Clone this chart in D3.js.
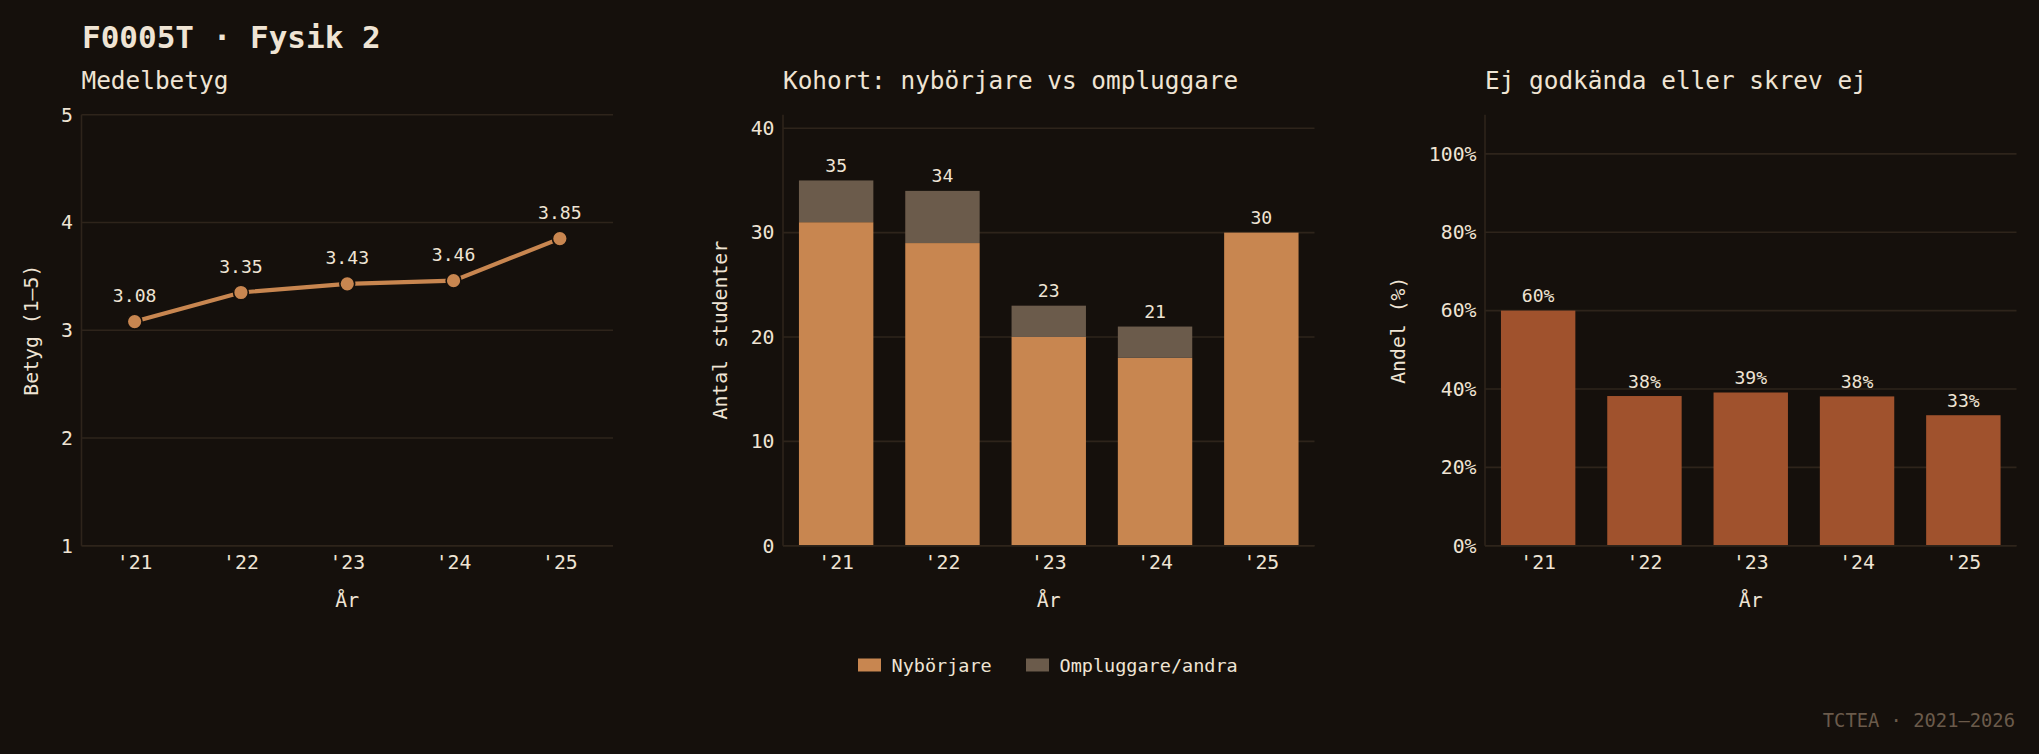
<!DOCTYPE html>
<html>
<head>
<meta charset="utf-8">
<script src="https://cdn.jsdelivr.net/npm/d3@7"></script>
<style>
  html, body { margin: 0; padding: 0; background: #15100c; }
  svg { display: block; }
</style>
</head>
<body>
<div id="chart"></div>
<script>
const W = 2039;
const H = 754;
const bg = '#15100c';
const ink = '#efe4d4';
const gridColor = '#2e241b';
const orange = '#c88650';
const brownGrey = '#6b5b4b';
const sienna = '#a0522d';
const mono = '"DejaVu Sans Mono", monospace';

// data
const years = ["'21", "'22", "'23", "'24", "'25"];
const medelbetyg = [3.08, 3.35, 3.43, 3.46, 3.85];
const nyborjare = [31, 29, 20, 18, 30];
const ompluggare = [4, 5, 3, 3, 0];
const ejGodkandaPct = [60, 38.2, 39.1, 38.1, 33.3];
const betygTicks = [1, 2, 3, 4, 5];
const studentTicks = [0, 10, 20, 30, 40];
const pctTicks = [0, 20, 40, 60, 80, 100];
const legendLabels = ['Nybörjare', 'Ompluggare/andra'];

const plotTop = 114.7, plotBottom = 545.7, pw = 531.5;
const lefts = [81.5, 783, 1485];
const tickFont = 19.8, valFont = 18.1;

const svg = d3.select('#chart').append('svg')
  .attr('width', W).attr('height', H)
  .style('background', bg);

svg.append('text')
  .attr('x', 82).attr('y', 47.5)
  .attr('fill', ink).attr('font-family', mono)
  .attr('font-size', 31).attr('font-weight', 'bold')
  .text('F0005T · Fysik 2');

// common frame for one panel: grid, spines, axes, labels
function panel(i, title, yScale, yTicks, yFmt, yLabel) {
  const x0 = lefts[i];
  const g = svg.append('g').attr('transform', 'translate(' + x0 + ',0)');
  const x = d3.scaleBand().domain(years).range([0, pw]).paddingInner(0.3).paddingOuter(0.15);

  g.append('text').attr('x', 0).attr('y', 89)
    .attr('fill', ink).attr('font-family', mono).attr('font-size', 24.4)
    .text(title);

  g.selectAll('line.grid').data(yTicks).enter().append('line')
    .attr('class', 'grid')
    .attr('x1', 0).attr('x2', pw)
    .attr('y1', d => yScale(d)).attr('y2', d => yScale(d))
    .attr('stroke', gridColor).attr('stroke-width', 1.6);

  const yAx = g.append('g')
    .call(d3.axisLeft(yScale).tickValues(yTicks).tickSize(0).tickPadding(8.5).tickFormat(yFmt));
  yAx.select('.domain').remove();
  yAx.selectAll('text').attr('font-family', mono).attr('font-size', tickFont).attr('fill', ink);

  const xAx = g.append('g').attr('transform', 'translate(0,' + plotBottom + ')')
    .call(d3.axisBottom(x).tickSize(0).tickPadding(9.5));
  xAx.select('.domain').remove();
  xAx.selectAll('text').attr('font-family', mono).attr('font-size', tickFont).attr('fill', ink);

  let maxW = 0;
  yAx.selectAll('text').each(function () { maxW = Math.max(maxW, this.getBBox().width); });

  g.append('text')
    .attr('transform', 'translate(' + (-(maxW + 8.5 + 30)) + ',' + ((plotTop + plotBottom) / 2) + ') rotate(-90)')
    .attr('text-anchor', 'middle').attr('dominant-baseline', 'central')
    .attr('fill', ink).attr('font-family', mono).attr('font-size', tickFont)
    .text(yLabel);

  g.append('text').attr('x', pw / 2).attr('y', 606.5)
    .attr('text-anchor', 'middle')
    .attr('fill', ink).attr('font-family', mono).attr('font-size', tickFont)
    .text('År');

  const marks = g.append('g');

  g.append('line').attr('x1', 0).attr('x2', 0).attr('y1', plotTop).attr('y2', plotBottom)
    .attr('stroke', gridColor).attr('stroke-width', 1.6);
  g.append('line').attr('x1', 0).attr('x2', pw).attr('y1', plotBottom).attr('y2', plotBottom)
    .attr('stroke', gridColor).attr('stroke-width', 1.6);

  return { g: marks, x: x };
}

// 1: Medelbetyg
const y1 = d3.scaleLinear().domain([1, 5]).range([plotBottom, plotTop]);
const p1 = panel(0, 'Medelbetyg', y1, betygTicks, d3.format('d'), 'Betyg (1–5)');
const cx = (d, i) => p1.x(years[i]) + p1.x.bandwidth() / 2;
p1.g.append('path')
  .datum(medelbetyg)
  .attr('d', d3.line().x(cx).y(d => y1(d)))
  .attr('fill', 'none').attr('stroke', orange).attr('stroke-width', 4.2);
p1.g.selectAll('circle').data(medelbetyg).enter().append('circle')
  .attr('cx', cx).attr('cy', d => y1(d)).attr('r', 7.4)
  .attr('fill', orange).attr('stroke', bg).attr('stroke-width', 1.6);
p1.g.selectAll('text.val').data(medelbetyg).enter().append('text')
  .attr('class', 'val')
  .attr('x', cx).attr('y', d => y1(d) - 19.5)
  .attr('text-anchor', 'middle')
  .attr('fill', ink).attr('font-family', mono).attr('font-size', valFont)
  .text(d => d.toFixed(2));

// 2: Kohort stacked
const totals = nyborjare.map((d, i) => d + ompluggare[i]);
const y2 = d3.scaleLinear().domain([0, 41.3]).range([plotBottom, plotTop]);
const p2 = panel(1, 'Kohort: nybörjare vs ompluggare', y2, studentTicks, d3.format('d'), 'Antal studenter');
p2.g.selectAll('rect.ny').data(nyborjare).enter().append('rect')
  .attr('x', (d, i) => p2.x(years[i])).attr('width', p2.x.bandwidth())
  .attr('y', d => y2(d)).attr('height', d => y2(0) - y2(d))
  .attr('fill', orange);
p2.g.selectAll('rect.om').data(ompluggare).enter().append('rect')
  .attr('x', (d, i) => p2.x(years[i])).attr('width', p2.x.bandwidth())
  .attr('y', (d, i) => y2(totals[i])).attr('height', (d, i) => y2(nyborjare[i]) - y2(totals[i]))
  .attr('fill', brownGrey);
p2.g.selectAll('text.val').data(totals).enter().append('text')
  .attr('x', (d, i) => p2.x(years[i]) + p2.x.bandwidth() / 2)
  .attr('y', d => y2(d) - 8.5)
  .attr('text-anchor', 'middle')
  .attr('fill', ink).attr('font-family', mono).attr('font-size', valFont)
  .text(d => d);

// legend under the middle panel
const legend = svg.append('g');
const legX = [858, 1026];
legendLabels.forEach((lab, i) => {
  legend.append('rect').attr('x', legX[i]).attr('y', 658.5).attr('width', 23).attr('height', 13)
    .attr('fill', i === 0 ? orange : brownGrey);
  legend.append('text').attr('x', legX[i] + 33.5).attr('y', 672)
    .attr('fill', ink).attr('font-family', mono).attr('font-size', 18.5)
    .text(lab);
});

// 3: Ej godkända
const y3 = d3.scaleLinear().domain([0, 110]).range([plotBottom, plotTop]);
const p3 = panel(2, 'Ej godkända eller skrev ej', y3, pctTicks, d => d + '%', 'Andel (%)');
p3.g.selectAll('rect').data(ejGodkandaPct).enter().append('rect')
  .attr('x', (d, i) => p3.x(years[i])).attr('width', p3.x.bandwidth())
  .attr('y', d => y3(d)).attr('height', d => y3(0) - y3(d))
  .attr('fill', sienna);
p3.g.selectAll('text.val').data(ejGodkandaPct).enter().append('text')
  .attr('x', (d, i) => p3.x(years[i]) + p3.x.bandwidth() / 2)
  .attr('y', d => y3(d) - 8.5)
  .attr('text-anchor', 'middle')
  .attr('fill', ink).attr('font-family', mono).attr('font-size', valFont)
  .text(d => Math.round(d) + '%');

svg.append('text')
  .attr('x', 2015).attr('y', 726.5)
  .attr('text-anchor', 'end')
  .attr('fill', brownGrey).attr('font-family', mono).attr('font-size', 18.8)
  .text('TCTEA · 2021–2026');
</script>
</body>
</html>
